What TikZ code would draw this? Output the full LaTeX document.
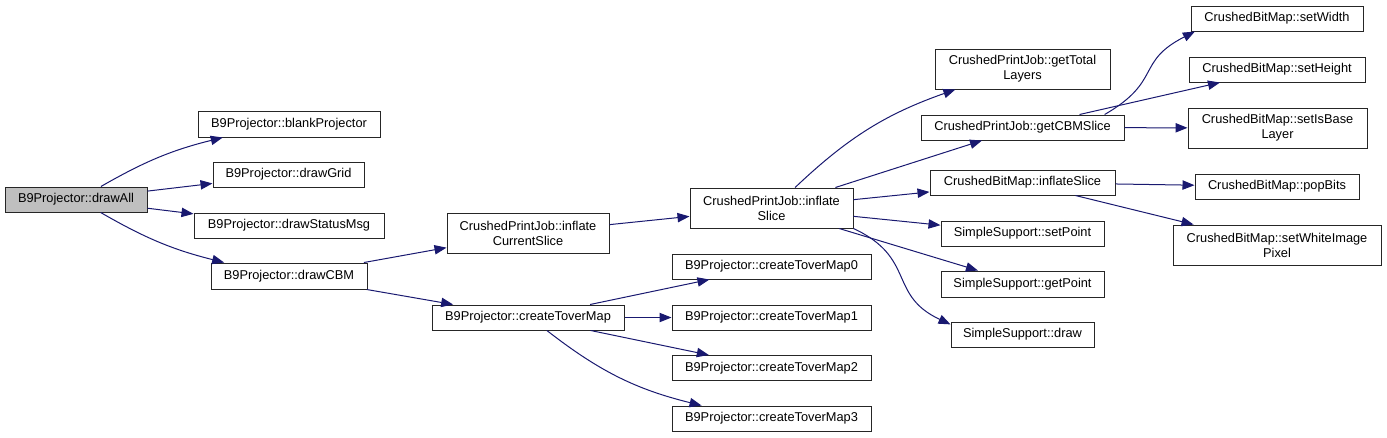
\documentclass[tikz,border=0pt]{standalone}
\usepackage{fontspec}
\setmainfont{Liberation Sans}
\usetikzlibrary{arrows.meta}
\definecolor{edgeblue}{HTML}{191970}
\tikzset{
  fn/.style={draw=black!85, line width=0.75pt, inner sep=0pt, align=center,
    font=\fontsize{9.6}{11.3}\selectfont},
  boxw/.style={minimum width=#1*0.75pt},
  boxh/.style={minimum height=#1*0.75pt},
  call/.style={-{Triangle[length=9pt,width=7pt]}, draw=edgeblue, line width=0.75pt}
}
\begin{document}
\begin{tikzpicture}[x=0.75pt,y=-0.75pt]
\useasboundingbox (0,0) rectangle (1387,437);
% first level
\node[fn,fill=black!25,boxw=142,boxh=25] (drawAll) at (76,199.5) {B9Projector::drawAll};
\node[fn,boxw=182,boxh=26] (blankProj) at (289,124) {B9Projector::blankProjector};
\node[fn,boxw=151,boxh=25] (drawGrid) at (288.5,174.5) {B9Projector::drawGrid};
\node[fn,boxw=190,boxh=25] (drawStatus) at (289,225.5) {B9Projector::drawStatusMsg};
\node[fn,boxw=156,boxh=26] (drawCBM) at (289,276) {B9Projector::drawCBM};
% second level
\node[fn,boxw=162,boxh=40] (inflateCur) at (528,233) {CrushedPrintJob::inflate\\CurrentSlice};
\node[fn,boxw=192,boxh=25] (tover) at (528,317.5) {B9Projector::createToverMap};
\node[fn,boxw=163,boxh=40] (inflateSl) at (771.5,208) {CrushedPrintJob::inflate\\Slice};
\foreach \i/\y in {0/266.5,1/317.5,2/368,3/418.5} {
  \node[fn,boxw=199,boxh=25] (tover\i) at (771.5,\y) {B9Projector::createToverMap\i};
}
% third level
\node[fn,boxw=175,boxh=40] (totalLayers) at (1022.5,69) {CrushedPrintJob::getTotal\\Layers};
\node[fn,boxw=203,boxh=25] (cbmSlice) at (1022.5,127.5) {CrushedPrintJob::getCBMSlice};
\node[fn,boxw=185,boxh=25] (bmInflate) at (1022.5,182.5) {CrushedBitMap::inflateSlice};
\node[fn,boxw=163,boxh=25] (setPoint) at (1022.5,233.5) {SimpleSupport::setPoint};
\node[fn,boxw=163,boxh=26] (getPoint) at (1022.5,284) {SimpleSupport::getPoint};
\node[fn,boxw=143,boxh=25] (ssDraw) at (1022.5,334.5) {SimpleSupport::draw};
% fourth level
\node[fn,boxw=172,boxh=25] (setWidth) at (1277,18.5) {CrushedBitMap::setWidth};
\node[fn,boxw=176,boxh=25] (setHeight) at (1277,69.5) {CrushedBitMap::setHeight};
\node[fn,boxw=179,boxh=40] (setBase) at (1277.5,128) {CrushedBitMap::setIsBase\\Layer};
\node[fn,boxw=164,boxh=25] (popBits) at (1277,186.5) {CrushedBitMap::popBits};
\node[fn,boxw=208,boxh=40] (whitePix) at (1277,245) {CrushedBitMap::setWhiteImage\\Pixel};
% calls
\draw[call] (drawAll) to[bend left=8] (blankProj);
\draw[call] (drawAll) -- (drawGrid);
\draw[call] (drawAll) -- (drawStatus);
\draw[call] (drawAll) to[bend right=8] (drawCBM);
\draw[call] (drawCBM) -- (inflateCur);
\draw[call] (drawCBM) -- (tover);
\draw[call] (inflateCur) -- (inflateSl);
\foreach \i in {0,1,2} {
  \draw[call] (tover) -- (tover\i);
}
\draw[call] (tover) to[bend right=12] (tover3);
\draw[call] (inflateSl) to[bend left=12] (totalLayers);
\draw[call] (inflateSl) -- (cbmSlice);
\draw[call] (inflateSl) -- (bmInflate);
\draw[call] (inflateSl) -- (setPoint);
\draw[call] (inflateSl) -- (getPoint);
\draw[call] (inflateSl.south east) to[out=-25,in=155,looseness=1.3] (ssDraw.172);
\draw[call] (cbmSlice.9) to[out=30,in=207,looseness=1.4] (setWidth.189);
\draw[call] (cbmSlice) -- (setHeight);
\draw[call] (cbmSlice) -- (setBase);
\draw[call] (bmInflate) -- (popBits);
\draw[call] (bmInflate) -- (whitePix);
\end{tikzpicture}
\end{document}
